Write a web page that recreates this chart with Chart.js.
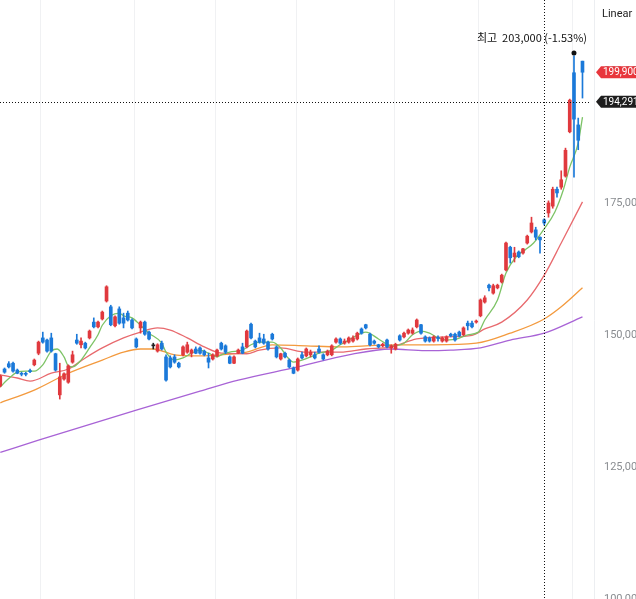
<!DOCTYPE html>
<html>
<head>
<meta charset="utf-8">
<script src="https://cdn.jsdelivr.net/npm/chart.js@4.4.1/dist/chart.umd.min.js"></script>
<style>
    html, body { margin: 0; padding: 0; background: #fff; }
    #wrap { width: 636px; height: 599px; overflow: hidden; position: relative; }
    canvas { display: block; }
</style>
</head>
<body>
<div id="wrap"><canvas id="chart" width="680" height="640"></canvas></div>
<script>
// daily candles, oldest first
const opens = [140400, 143600, 144600, 144700, 143400, 142700, 142700, 143300, 144400, 146600,
    149500, 149100, 149500, 146500, 138700, 141700, 141100, 144900, 149100, 148200,
    148500, 149500, 152500, 151600, 153100, 156500, 155400, 151800, 155000, 153300,
    154200, 152900, 149300, 151400, 152500, 150600, 148000, 147000, 148500, 145900,
    145700, 145900, 144700, 146300, 146800, 146600, 147400, 147600, 147000, 145700,
    145500, 146100, 148500, 148000, 145900, 144700, 146600, 147800, 147800, 152100,
    148900, 149500, 149300, 148700, 150200, 147800, 145500, 146600, 145300, 143800,
    143400, 146300, 146100, 146300, 146300, 147400, 146300, 146300, 146300, 148700,
    149300, 148500, 148700, 148900, 149300, 151200, 152000, 150200, 148900, 148200,
    148000, 149100, 147600, 147400, 149900, 149700, 150400, 150400, 151600, 152000,
    149700, 149500, 148900, 149600, 148900, 148900, 150200, 150200, 150600, 150100,
    152300, 152300, 152500, 153700, 156300, 159500, 158000, 159000, 160100, 162400,
    166700, 164900, 165800, 165600, 167500, 169600, 170000, 168600, 171900, 173200,
    174500, 177700, 178100, 180200, 188600, 199800, 189900, 202000];
const closes = [142300, 143000, 144000, 143200, 142800, 142600, 142600, 143100, 145300, 148700,
    148700, 147000, 147000, 143400, 142100, 142700, 144200, 146300, 148500, 148900,
    147600, 150800, 151600, 152500, 154400, 159200, 152000, 153500, 152300, 152300,
    152900, 151400, 147800, 152500, 150200, 149300, 148000, 148200, 147400, 141500,
    144000, 144900, 144000, 147800, 148200, 147200, 146600, 146600, 146300, 144900,
    146300, 147200, 147400, 146800, 144700, 145900, 147200, 146600, 150800, 149500,
    147800, 148700, 148500, 147400, 149300, 145900, 146500, 145900, 144000, 142800,
    145500, 145700, 147400, 146800, 145700, 146800, 145500, 147000, 148000, 149300,
    148500, 148900, 149500, 149500, 150400, 150400, 151400, 148200, 148500, 147800,
    148300, 147800, 148000, 148300, 149100, 150400, 151000, 151000, 152900, 150400,
    148900, 148900, 149700, 149400, 149500, 149700, 149900, 149100, 149900, 151400,
    151800, 151600, 152700, 156700, 157100, 159000, 159400, 159500, 161400, 167500,
    164700, 165600, 164900, 166400, 168800, 171300, 168600, 168100, 171300, 175100,
    177700, 177000, 179500, 185100, 194600, 191000, 187000, 199900];
const highs = [142500, 143800, 145000, 144900, 143600, 143000, 143000, 143600, 145500, 148900,
    150600, 149300, 150400, 146600, 144700, 142900, 144400, 147000, 150200, 149500,
    148700, 151000, 153300, 152700, 154600, 159400, 155700, 153700, 155400, 154200,
    154600, 153100, 149500, 152700, 152700, 150800, 148500, 148400, 148900, 146300,
    146100, 146300, 144900, 148000, 148700, 147400, 147800, 147800, 147200, 146600,
    146500, 147400, 148700, 148200, 146100, 146100, 147400, 148500, 151000, 152300,
    149100, 150400, 150200, 148900, 150400, 148000, 146600, 146800, 145500, 144000,
    145700, 146800, 147600, 147200, 146800, 148000, 146500, 147200, 148200, 149500,
    149500, 149300, 149700, 149900, 150600, 151400, 152100, 150400, 149100, 148300,
    148500, 149300, 148200, 148500, 150100, 150600, 151200, 151400, 153100, 152100,
    149900, 149700, 149900, 149900, 149700, 149900, 150400, 150400, 150800, 151600,
    152700, 152700, 152900, 156900, 157500, 159700, 159700, 159700, 161600, 167700,
    166900, 166700, 166000, 166500, 169000, 172400, 170500, 168700, 172100, 175500,
    178100, 178100, 181200, 185500, 194800, 203000, 191200, 202000];
const lows = [140200, 142800, 143800, 143000, 142700, 142300, 142300, 142900, 144200, 146300,
    148500, 146800, 146800, 143200, 137900, 141500, 140900, 144700, 148300, 147600,
    147400, 149300, 151400, 151400, 152900, 156300, 151800, 151600, 152100, 151400,
    152700, 151200, 147600, 150400, 150000, 149100, 147400, 146800, 147200, 141300,
    143800, 144700, 143800, 146100, 146600, 145900, 146500, 146400, 146100, 143800,
    145300, 145900, 147200, 146500, 144600, 144600, 146500, 146500, 147600, 149300,
    147600, 148500, 148300, 147200, 149100, 145700, 145300, 145700, 143800, 142700,
    143200, 145500, 145900, 145900, 145500, 146600, 145300, 146100, 146100, 148500,
    148300, 148300, 148500, 148700, 149100, 150200, 151200, 148000, 148300, 147600,
    147800, 147600, 146600, 147200, 148900, 149500, 150200, 150200, 151400, 150200,
    148700, 148700, 148700, 148900, 148700, 148700, 149700, 148900, 149700, 149900,
    151000, 151400, 152300, 153500, 156100, 158400, 157800, 158800, 159900, 162200,
    163700, 163900, 164700, 165400, 167300, 169400, 168100, 165600, 170900, 172400,
    174100, 176200, 177700, 180000, 188400, 180000, 185200, 195000];

// moving averages: [candle index, price]
const ma5 = [[0, 140200], [1.6, 141500], [4, 143000], [6, 143200], [8, 143200], [10, 144400],
    [12, 147000], [13.4, 147400], [15, 145900], [16, 144200], [17, 144000], [19, 145300],
    [21, 147600], [23, 150100], [24, 151900], [26, 153700], [28, 154200], [29, 153700],
    [31, 153300], [33, 151900], [35, 150400], [38, 148500], [39, 146800], [41, 145300],
    [43, 145700], [45, 146600], [47, 147200], [49, 146600], [51, 145900], [52, 146300],
    [54, 146800], [57, 147200], [59, 148200], [61, 148700], [64, 148700], [66, 147600],
    [67.5, 145900], [69, 144900], [71, 145300], [73, 145900], [75, 146600], [78, 147200],
    [80, 148200], [82, 149100], [85, 150400], [86, 150600], [89, 149300], [91, 148300],
    [92, 148000], [95, 148500], [97, 150100], [99, 150800], [101, 150400], [103, 149500],
    [105, 149100], [107.5, 149300], [110, 150100], [112.5, 150600], [114, 152900],
    [117, 156700], [119, 161800], [121.5, 165000], [123.5, 166200], [125.5, 167500],
    [128, 170200], [130.5, 173400], [132.5, 177600], [134, 181900], [136, 186500], [137, 191400]];
const ma20 = [[0, 142500], [4, 141900], [7, 141300], [12, 142800], [16, 143600], [20, 145700],
    [24, 147600], [29, 149500], [33, 150600], [37, 151400], [40, 151000], [44, 149500],
    [48, 147800], [52, 146600], [58, 146500], [61, 147200], [66, 147600], [72, 146800],
    [80, 146800], [86, 147400], [92, 147800], [98, 149300], [105, 149700], [111, 150000],
    [114, 151200], [118, 152500], [124, 156700], [128, 161400], [132, 167500], [137, 175300]];
const ma60 = [[0, 137200], [8, 139600], [16, 142800], [24, 145300], [29, 146800], [33, 147400],
    [36, 147400], [41, 146300], [47, 146100], [52, 146300], [58, 146800], [64, 148200],
    [72, 148000], [80, 147800], [86, 148000], [94, 148200], [102, 148200], [112, 148500],
    [120, 150400], [128, 153100], [132, 155400], [137, 159000]];
const ma120 = [[0, 127800], [9, 130100], [32, 135800], [47, 139400], [56, 141500], [70, 144000],
    [82, 146300], [92, 147400], [100, 147100], [106, 147200], [113, 147600], [120, 149100],
    [128, 150400], [137, 153500]];

const priceTicks = [100000, 125000, 150000, 175000, 200000];
const monthTicks = [9.4, 31.5, 50.6, 69.6, 92.7, 112.6, 134.6];

const highIndex = 135;
const highPrice = 203000;
const crossIndex = 128;
const crossPrice = 194291;

const upColor = '#e0393e';
const downColor = '#1b79d9';
const flatColor = '#222222';

const fmt = v => v.toLocaleString('en-US');

const candleColors = opens.map((o, i) => closes[i] > o ? upColor : (closes[i] < o ? downColor : flatColor));

const maLine = (pairs, color) => ({
    type: 'line',
    data: pairs.map(p => ({ x: p[0], y: p[1] })),
    borderColor: color,
    borderWidth: 1.3,
    pointRadius: 0,
    cubicInterpolationMode: 'monotone',
    order: 2
});

const overlayPlugin = {
    id: 'overlayPlugin',
    afterDraw: function (chart) {
        const { ctx, chartArea, scales: { x, y } } = chart;
        const lastPrice = closes[closes.length - 1];
        ctx.save();

        // crosshair
        const cx = Math.round(x.getPixelForValue(crossIndex)) + 0.5;
        const cy = Math.round(y.getPixelForValue(crossPrice)) + 0.5;
        ctx.strokeStyle = '#111';
        ctx.lineWidth = 1;
        ctx.setLineDash([1, 2]);
        ctx.beginPath();
        ctx.moveTo(cx, chartArea.top);
        ctx.lineTo(cx, chartArea.bottom);
        ctx.moveTo(chartArea.left, cy);
        ctx.lineTo(chartArea.right - 3, cy);
        ctx.stroke();
        ctx.setLineDash([]);

        // highest point marker
        const hx = x.getPixelForValue(highIndex);
        const hy = y.getPixelForValue(highPrice) - 3;
        ctx.fillStyle = '#111';
        ctx.beginPath();
        ctx.arc(hx, hy, 2.5, 0, Math.PI * 2);
        ctx.fill();
        const pct = ((lastPrice - highPrice) / highPrice * 100).toFixed(2);
        ctx.font = '11px "Noto Sans CJK KR", "Noto Sans", sans-serif';
        ctx.textAlign = 'right';
        ctx.textBaseline = 'middle';
        ctx.fillText('최고  ' + fmt(highPrice) + ' (' + pct + '%)', hx + 13, hy - 15);

        // price tags on the axis
        const drawTag = (price, color) => {
            const ty = y.getPixelForValue(price);
            const left = chartArea.right + 2;
            ctx.fillStyle = color;
            ctx.beginPath();
            ctx.moveTo(left, ty);
            ctx.lineTo(left + 5, ty - 6);
            ctx.lineTo(chart.width, ty - 6);
            ctx.lineTo(chart.width, ty + 6);
            ctx.lineTo(left + 5, ty + 6);
            ctx.closePath();
            ctx.fill();
            ctx.fillStyle = '#fff';
            ctx.font = '10px Roboto, sans-serif';
            ctx.textAlign = 'left';
            ctx.fillText(fmt(price), left + 7, ty + 0.5);
        };
        drawTag(lastPrice, '#e8363c');
        drawTag(crossPrice, '#1e1e1e');

        ctx.fillStyle = '#222';
        ctx.font = '11px Roboto, sans-serif';
        ctx.textAlign = 'left';
        ctx.fillText('Linear', chartArea.right + 8, 14);
        ctx.restore();
    }
};

const config = {
    type: 'bar',
    data: {
        datasets: [
            {
                data: opens.map((o, i) => ({ x: i, y: [Math.min(o, closes[i]), Math.max(o, closes[i])] })),
                backgroundColor: candleColors,
                barThickness: 3,
                minBarLength: 1,
                grouped: false,
                order: 1
            },
            {
                data: highs.map((h, i) => ({ x: i, y: [lows[i], h] })),
                backgroundColor: candleColors,
                barThickness: 1,
                grouped: false,
                order: 1
            },
            maLine(ma5, '#7dc366'),
            maLine(ma20, '#e86a6e'),
            maLine(ma60, '#f39a3e'),
            maLine(ma120, '#a863d6')
        ]
    },
    options: {
        responsive: false,
        animation: false,
        events: [],
        layout: { padding: 0 },
        plugins: {
            legend: { display: false },
            tooltip: { enabled: false }
        },
        scales: {
            x: {
                type: 'linear',
                min: -0.07,
                max: 139.71,
                offset: false,
                grid: {
                    offset: false,
                    drawTicks: false,
                    color: '#f0f1f3'
                },
                border: { display: false },
                ticks: { display: false },
                afterBuildTicks: function (scale) {
                    scale.ticks = monthTicks.map(v => ({ value: v }));
                },
                afterFit: function (scale) {
                    scale.height = 0;
                    scale.paddingLeft = 0;
                    scale.paddingRight = 0;
                }
            },
            y: {
                position: 'right',
                min: 92200,
                max: 213600,
                grid: { display: false, drawTicks: false },
                border: { display: true, color: '#eceef1' },
                ticks: {
                    padding: 10,
                    color: '#8a8d91',
                    font: { family: 'Roboto', size: 11 },
                    callback: function (value) {
                        return fmt(value);
                    }
                },
                afterBuildTicks: function (scale) {
                    scale.ticks = priceTicks.map(v => ({ value: v }));
                },
                afterFit: function (scale) {
                    scale.width = 86;
                    scale.paddingTop = 0;
                    scale.paddingBottom = 0;
                }
            }
        }
    },
    plugins: [overlayPlugin]
};

const myChart = new Chart(document.getElementById('chart'), config);
</script>
</body>
</html>
